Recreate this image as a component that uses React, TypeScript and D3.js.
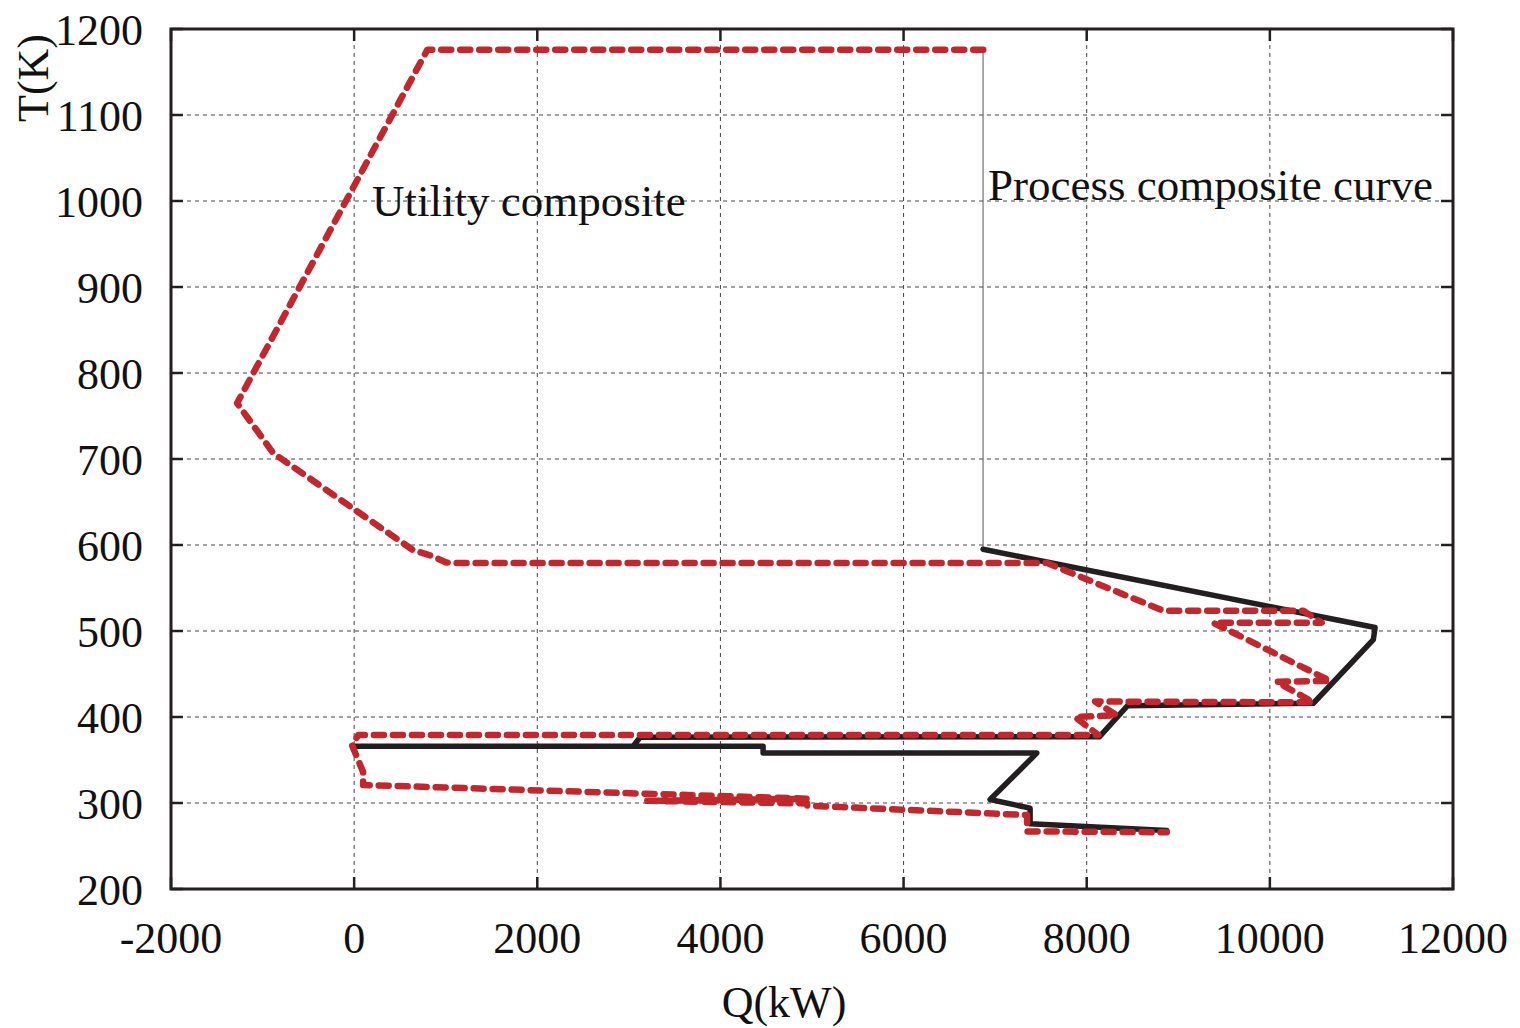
import React from "react";
import * as d3 from "d3";

// Utility composite curve (dashed red): heat flow Q (kW) vs temperature T (K)
const utilityQ = [6870, 800, -1278, -885, 644, 830, 1000, 1048, 7567, 8838, 10366, 10566, 9383, 10658, 10075, 10475, 8091, 8328, 7873, 8128, 44, -22, 98, 98, 4947, 3199, 4947, 4947, 7349, 7349, 8874];
const utilityT = [1176, 1176, 765, 707, 594, 588, 580, 579, 579, 523.5, 523.5, 509.5, 509.5, 442, 441, 417, 418, 402, 400, 379, 379, 367, 336, 321, 305, 302.5, 299.5, 297, 286, 267, 266];

// Process composite curve (solid black)
const processQ = [6868, 11149, 11130, 10475, 8444, 8138, 3123, 3047, 0, 4466, 4466, 7455, 6945, 7382, 7382, 8874];
const processT = [595, 504, 490, 416, 413, 377, 376.5, 366, 366, 366, 358, 358, 304, 294, 276, 268];

// Thin connector between the two curves
const connectorQ = [6868, 6868];
const connectorT = [1176, 595];

const xTicks = [-2000, 0, 2000, 4000, 6000, 8000, 10000, 12000];
const yTicks = [200, 300, 400, 500, 600, 700, 800, 900, 1000, 1100, 1200];

const W = 1520;
const H = 1028;
const left = 171;
const right = 1453;
const top = 29;
const bottom = 889;

const RED = "#c1272d";
const INK = "#231f20";
const FONT = "'Liberation Serif', 'DejaVu Serif', serif";

export default function App() {
  const x = d3.scaleLinear().domain([-2000, 12000]).range([left, right]);
  const y = d3.scaleLinear().domain([200, 1200]).range([bottom, top]);

  const line = d3
    .line<[number, number]>()
    .x((d) => x(d[0]))
    .y((d) => y(d[1]));

  const utilityPts: [number, number][] = utilityQ.map((q, i) => [q, utilityT[i]]);
  const processPts: [number, number][] = processQ.map((q, i) => [q, processT[i]]);
  const connectorPts: [number, number][] = connectorQ.map((q, i) => [q, connectorT[i]]);

  const tickLen = 12;

  return (
    <svg
      width={W}
      height={H}
      style={{ position: "absolute", left: 0, top: 0, background: "#fff" }}
      fontFamily={FONT}
    >
      {/* grid */}
      <g stroke="#444" strokeWidth={1} strokeDasharray="4,4">
        {xTicks
          .filter((t) => t > -2000 && t < 12000)
          .map((t) => (
            <line key={"gx" + t} x1={x(t)} x2={x(t)} y1={top} y2={bottom} />
          ))}
        {yTicks
          .filter((t) => t > 200 && t < 1200)
          .map((t) => (
            <line key={"gy" + t} x1={left} x2={right} y1={y(t)} y2={y(t)} />
          ))}
      </g>

      {/* ticks on all four sides, pointing inward */}
      <g stroke={INK} strokeWidth={2.5}>
        {xTicks.map((t) => (
          <g key={"tx" + t}>
            <line x1={x(t)} x2={x(t)} y1={bottom} y2={bottom - tickLen} />
            <line x1={x(t)} x2={x(t)} y1={top} y2={top + tickLen} />
          </g>
        ))}
        {yTicks.map((t) => (
          <g key={"ty" + t}>
            <line x1={left} x2={left + tickLen} y1={y(t)} y2={y(t)} />
            <line x1={right} x2={right - tickLen} y1={y(t)} y2={y(t)} />
          </g>
        ))}
      </g>

      {/* curves */}
      <path d={line(connectorPts) || ""} fill="none" stroke="#555" strokeWidth={1} />
      <path
        d={line(processPts) || ""}
        fill="none"
        stroke={INK}
        strokeWidth={5.5}
        strokeLinejoin="round"
        strokeLinecap="round"
      />
      <path
        d={line(utilityPts) || ""}
        fill="none"
        stroke={RED}
        strokeWidth={6.5}
        strokeDasharray="10,9"
        strokeLinejoin="round"
        strokeLinecap="round"
      />

      {/* frame */}
      <rect
        x={left}
        y={top}
        width={right - left}
        height={bottom - top}
        fill="none"
        stroke={INK}
        strokeWidth={3}
      />

      {/* tick labels */}
      <g fontSize={44} fill="#111">
        {xTicks.map((t) => (
          <text key={"lx" + t} x={x(t)} y={953} textAnchor="middle">
            {t}
          </text>
        ))}
        {yTicks.map((t) => (
          <text key={"ly" + t} x={143} y={y(t) + 16} textAnchor="end">
            {t}
          </text>
        ))}
      </g>

      {/* axis titles */}
      <text x={784} y={1017} fontSize={44} textAnchor="middle" fill="#111">
        Q(kW)
      </text>
      <text
        transform="translate(48,78) rotate(-90)"
        fontSize={44}
        textAnchor="middle"
        fill="#111"
      >
        T(K)
      </text>

      {/* curve annotations */}
      <text x={372} y={216} fontSize={45} fill="#111">
        Utility composite
      </text>
      <text x={988} y={200} fontSize={45} fill="#111">
        Process composite curve
      </text>
    </svg>
  );
}
